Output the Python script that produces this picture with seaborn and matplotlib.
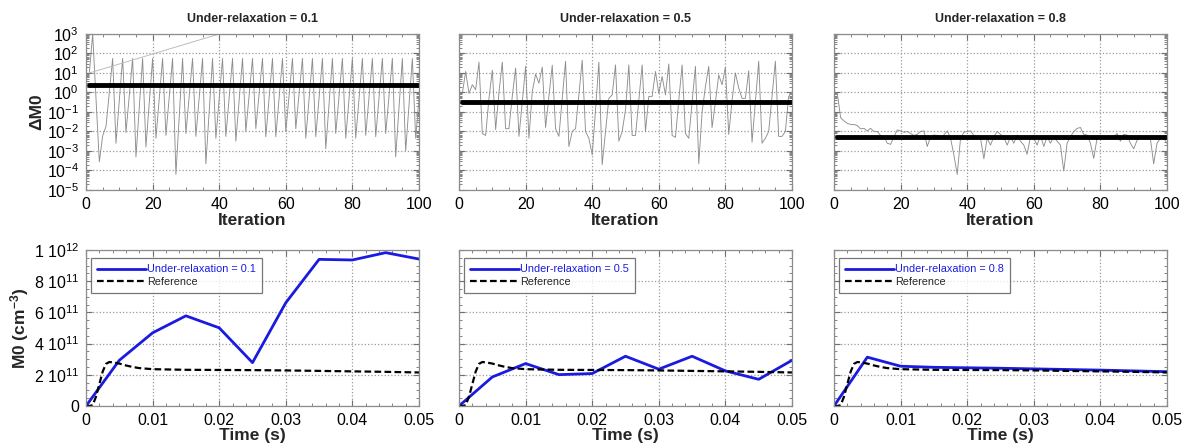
import numpy as np
import matplotlib
matplotlib.use("Agg")
import matplotlib.pyplot as plt
import seaborn as sns
from matplotlib.ticker import FixedLocator, FixedFormatter, AutoMinorLocator, LogLocator

# ---------------- data ----------------
relax = [0.1, 0.5, 0.8]
iterations = list(range(1, 101))

dm0_relax01 = [
    10, 1000, 0.5, 2.8e-4, 6e-3, 0.018, 1.0, 56, 2.5e-3, 0.4,
    56, 0.0089, 0.7, 56, 5e-4, 0.17, 56, 0.0016, 0.3, 56,
    0.0045, 0.5, 56, 0.0063, 0.6, 56, 6.3e-5, 0.06, 56, 0.0079,
    0.67, 56, 0.0056, 0.56, 56, 2.2e-4, 0.11, 56, 0.0045, 0.5,
    56, 0.0056, 0.56, 56, 0.0032, 0.42, 56, 0.01, 0.75, 56,
    0.014, 0.9, 56, 0.0054, 0.55, 56, 0.0054, 0.55, 56, 0.01,
    0.75, 56, 0.014, 0.9, 56, 0.0045, 0.5, 56, 0.0054, 0.55,
    56, 0.0013, 0.27, 56, 0.0079, 0.67, 56, 0.0045, 0.5, 56,
    0.0045, 0.5, 56, 0.0063, 0.6, 56, 0.0054, 0.55, 56, 0.0079,
    0.67, 56, 5e-4, 0.17, 56, 0.001, 0.23, 56, 0.0045, 0.5,
]
dm0_relax05 = [
    0.9, 12, 0.9, 2.5, 1.4, 36, 0.0079, 0.0063, 0.5, 14,
    0.0126, 1.0, 36, 0.014, 0.014, 0.63, 18, 0.0056, 0.32, 22,
    0.0045, 1.1, 8.7, 3.0, 20, 0.016, 0.63, 25, 0.014, 0.0056,
    0.5, 40, 0.0017, 0.01, 0.014, 0.76, 45, 0.01, 0.0045, 6.3e-4,
    0.13, 36, 2e-4, 0.01, 0.5, 0.76, 26, 0.0032, 0.01, 0.13,
    26, 0.0063, 0.0063, 0.4, 26, 0.01, 0.63, 0.63, 12, 0.9,
    6.6, 0.76, 29, 0.0063, 0.005, 0.4, 26, 0.0079, 0.0045, 0.32,
    22, 2.2e-4, 0.1, 2.0, 22, 0.016, 0.32, 8, 2.5, 20,
    0.0071, 0.4, 10, 1.7, 0.5, 0.5, 13, 0.0028, 0.32, 40,
    0.0025, 0.0045, 0.01, 0.63, 40, 0.0056, 0.0056, 0.01, 0.63, 1.0,
]
dm0_relax08 = [
    0.9, 0.05, 0.035, 0.026, 0.023, 0.023, 0.02, 0.0135, 0.0145, 0.0107,
    0.0145, 0.01, 0.01, 0.0063, 0.0054, 0.0025, 0.0022, 0.0054, 0.012, 0.0107,
    0.0091, 0.01, 0.0079, 0.0063, 0.0071, 0.01, 0.0107, 0.0017, 0.0054, 0.0066,
    0.0063, 0.0054, 0.0066, 0.0107, 0.0045, 6.3e-4, 6.3e-5, 0.0045, 0.0091, 0.01,
    0.0107, 0.0063, 0.0054, 0.0045, 4e-4, 0.0045, 0.002, 0.0054, 0.01, 0.0071,
    0.005, 0.002, 0.0054, 0.0025, 0.0066, 0.0032, 0.002, 6.8e-4, 0.0054, 0.0045,
    0.002, 0.0063, 0.0017, 0.0054, 0.0025, 0.0054, 0.0032, 0.002, 9.3e-5, 0.0025,
    0.0054, 0.01, 0.0145, 0.016, 0.0071, 0.0066, 0.0025, 4.2e-4, 0.0045, 0.0054,
    0.0054, 0.0054, 0.0054, 0.0054, 0.0079, 0.0032, 0.0071, 0.0066, 0.0025, 0.0013,
    0.0035, 0.0054, 0.005, 0.0045, 0.0045, 2.2e-4, 0.0025, 0.0045, 0.0045, 0.0025,
]
dm0_mean = [2.4, 0.34, 0.0053]
trend_iter = [1, 40]
trend_dm0 = [10, 1000]

times = [0, 0.005, 0.01, 0.015, 0.02, 0.025, 0.03, 0.035, 0.04, 0.045, 0.05]
m0_relax01 = [0, 2.93e11, 4.69e11, 5.78e11, 5.01e11, 2.78e11, 6.62e11, 9.4e11, 9.36e11, 9.83e11, 9.42e11]
m0_relax05 = [0, 1.86e11, 2.72e11, 2.01e11, 2.08e11, 3.19e11, 2.36e11, 3.19e11, 2.25e11, 1.71e11, 2.93e11]
m0_relax08 = [0, 3.13e11, 2.55e11, 2.48e11, 2.45e11, 2.42e11, 2.38e11, 2.34e11, 2.3e11, 2.25e11, 2.2e11]

ref_time = [0, 0.0005, 0.001, 0.0015, 0.002, 0.0025, 0.003, 0.0035, 0.004, 0.005,
            0.006, 0.007, 0.008, 0.01, 0.015, 0.02, 0.025, 0.03, 0.035, 0.04, 0.045, 0.05]
ref_m0 = [0, 0, 0.05e11, 0.6e11, 1.4e11, 2.2e11, 2.7e11, 2.82e11, 2.8e11, 2.72e11,
          2.6e11, 2.5e11, 2.43e11, 2.36e11, 2.32e11, 2.31e11, 2.3e11, 2.28e11, 2.25e11, 2.22e11, 2.19e11, 2.15e11]

m0_ticks = [0, 2e11, 4e11, 6e11, 8e11, 1e12]
m0_ticklabels = ["0", r"2 10$^{11}$", r"4 10$^{11}$", r"6 10$^{11}$", r"8 10$^{11}$", r"1 10$^{12}$"]
time_ticks = [0, 0.01, 0.02, 0.03, 0.04, 0.05]
time_ticklabels = ["0", "0.01", "0.02", "0.03", "0.04", "0.05"]
iter_ticks = [0, 20, 40, 60, 80, 100]

dm0_series = [dm0_relax01, dm0_relax05, dm0_relax08]
m0_series = [m0_relax01, m0_relax05, m0_relax08]

# ---------------- style ----------------
sns.set_style("ticks")
plt.rcParams['font.family'] = ['Liberation Sans', 'DejaVu Sans']
plt.rcParams['mathtext.fontset'] = 'custom'
plt.rcParams['mathtext.rm'] = 'Liberation Sans'
plt.rcParams['mathtext.it'] = 'Liberation Sans:italic'
plt.rcParams['mathtext.bf'] = 'Liberation Sans:bold'

GRID = '#9a9a9a'
BLUE = '#1a1ae0'


def style(ax):
    for s in ax.spines.values():
        s.set_visible(True)
        s.set_color('#8c8c8c')
        s.set_linewidth(0.9)
    ax.tick_params(which='both', direction='in', top=True, right=True,
                   color='#707070', labelcolor='black')
    ax.tick_params(which='major', length=4, width=0.8, labelsize=11.5, pad=5)
    ax.tick_params(which='minor', length=2, width=0.6)
    ax.grid(True, which='major', ls=':', color=GRID, lw=0.9)
    ax.set_axisbelow(True)


fig = plt.figure(figsize=(11.92, 4.48), dpi=100)
FW, FH = 1192, 448
lefts = [86, 459, 834]
W = 333
H = 156

for i, (r, dm0, m0) in enumerate(zip(relax, dm0_series, m0_series)):
    # ---- top: convergence ----
    ax = fig.add_axes([lefts[i] / FW, 1 - 190 / FH, W / FW, H / FH])
    ax.set_yscale('log')
    sns.lineplot(x=iterations, y=dm0, ax=ax, color='#8e8e8e', lw=0.65, estimator=None)
    if i == 0:
        sns.lineplot(x=trend_iter, y=trend_dm0, ax=ax, color='#bdbdbd', lw=0.7, estimator=None)
    sns.lineplot(x=[iterations[0], iterations[-1]], y=[dm0_mean[i], dm0_mean[i]], ax=ax,
                 color='black', lw=3.5, estimator=None)
    ax.set_xlim(0, 100)
    ax.set_ylim(1e-5, 1e3)
    ax.yaxis.set_major_locator(LogLocator(base=10, numticks=20))
    ax.yaxis.set_minor_locator(LogLocator(base=10, subs=np.arange(2, 10), numticks=20))
    ax.xaxis.set_major_locator(FixedLocator(iter_ticks))
    ax.xaxis.set_minor_locator(AutoMinorLocator(4))
    style(ax)
    ax.set_title(f"Under-relaxation = {r}", fontsize=9, fontweight='bold', pad=9)
    ax.set_xlabel("Iteration", fontsize=12.5, fontweight='bold', labelpad=1)
    if i == 0:
        ax.set_ylabel("ΔM0", fontsize=12.5, fontweight='bold', labelpad=2)
    else:
        ax.set_ylabel("")
        ax.tick_params(axis='y', labelleft=False)

    # ---- bottom: M0 vs time ----
    bx = fig.add_axes([lefts[i] / FW, 1 - 406 / FH, W / FW, H / FH])
    sns.lineplot(x=times, y=m0, ax=bx, color=BLUE, lw=2.0, estimator=None,
                 label=f"Under-relaxation = {r}")
    sns.lineplot(x=ref_time, y=ref_m0, ax=bx, color='black', lw=1.6, estimator=None,
                 label="Reference", linestyle='--')
    bx.lines[-1].set_dashes([3, 1.5])
    bx.set_xlim(0, 0.05)
    bx.set_ylim(0, 1e12)
    bx.xaxis.set_major_locator(FixedLocator(time_ticks))
    bx.xaxis.set_major_formatter(FixedFormatter(time_ticklabels))
    bx.xaxis.set_minor_locator(AutoMinorLocator(5))
    bx.yaxis.set_major_locator(FixedLocator(m0_ticks))
    bx.yaxis.set_major_formatter(FixedFormatter(m0_ticklabels))
    bx.yaxis.set_minor_locator(AutoMinorLocator(4))
    style(bx)
    bx.set_xlabel("Time (s)", fontsize=12.5, fontweight='bold', labelpad=0)
    if i == 0:
        bx.set_ylabel(r"M0 (cm$^{\mathbf{-3}}$)", fontsize=12.5, fontweight='bold', labelpad=2)
    else:
        bx.set_ylabel("")
        bx.tick_params(axis='y', labelleft=False)
    leg = bx.legend(loc='upper left', bbox_to_anchor=(0.01, 0.96), fontsize=7.8, frameon=True,
                    fancybox=False, borderpad=0.55, handlelength=4.5, handletextpad=0.1,
                    labelspacing=0.25, borderaxespad=0.2)
    leg.get_frame().set_edgecolor('#555555')
    leg.get_frame().set_linewidth(0.9)
    leg.get_texts()[0].set_color(BLUE)

fig.savefig("out.png", dpi=100)
